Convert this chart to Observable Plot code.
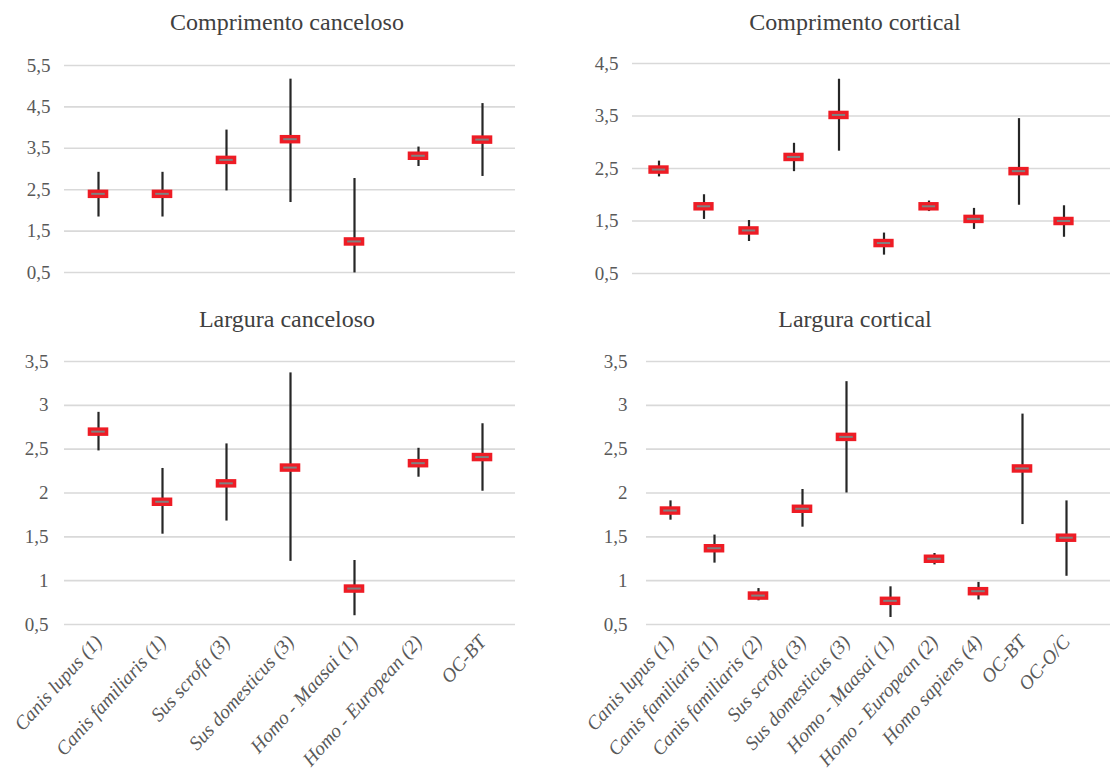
<!DOCTYPE html>
<html>
<head>
<meta charset="utf-8">
<script src="https://cdn.jsdelivr.net/npm/d3@7"></script>
<script src="https://cdn.jsdelivr.net/npm/@observablehq/plot@0.6"></script>
<style>
  html, body { margin: 0; padding: 0; background: #fff; }
  #root { position: relative; width: 1112px; height: 773px; overflow: hidden; font-family: "Liberation Serif", "Times New Roman", Tinos, "DejaVu Serif", serif; }
  .panel { position: absolute; }
  .panel svg, .panel svg text { font-family: "Liberation Serif", "Times New Roman", Tinos, "DejaVu Serif", serif !important; }
  .title { position: absolute; width: 500px; text-align: center; font-size: 24px; line-height: 28px; color: #404040; font-family: "Liberation Serif", "Times New Roman", Tinos, "DejaVu Serif", serif; }
  .xlab g[aria-label="x-axis tick label"] text { font-style: italic; }
</style>
</head>
<body>
<div id="root"></div>
<script>
// ---- Data ----
const catsLeft = ["Canis lupus (1)", "Canis familiaris (1)", "Sus scrofa (3)", "Sus domesticus (3)", "Homo - Maasai (1)", "Homo - European (2)", "OC-BT"];
const catsRight = ["Canis lupus (1)", "Canis familiaris (1)", "Canis familiaris (2)", "Sus scrofa (3)", "Sus domesticus (3)", "Homo - Maasai (1)", "Homo - European (2)", "Homo sapiens (4)", "OC-BT", "OC-O/C"];

// Comprimento canceloso
const compCancMin  = [1.84, 1.84, 2.47, 2.19, 0.49, 3.06, 2.82];
const compCancMax  = [2.92, 2.92, 3.94, 5.17, 2.77, 3.53, 4.58];
const compCancMean = [2.40, 2.40, 3.22, 3.72, 1.25, 3.32, 3.71];

// Comprimento cortical
const compCortMin  = [2.34, 1.53, 1.11, 2.44, 2.83, 0.85, 1.68, 1.34, 1.80, 1.19];
const compCortMax  = [2.64, 2.00, 1.51, 2.98, 4.20, 1.27, 1.88, 1.74, 3.45, 1.79];
const compCortMean = [2.48, 1.78, 1.32, 2.72, 3.52, 1.08, 1.78, 1.54, 2.45, 1.50];

// Largura canceloso
const largCancMin  = [2.48, 1.53, 1.68, 1.22, 0.60, 2.18, 2.02];
const largCancMax  = [2.92, 2.28, 2.56, 3.37, 1.23, 2.51, 2.79];
const largCancMean = [2.70, 1.90, 2.11, 2.29, 0.91, 2.34, 2.41];

// Largura cortical
const largCortMin  = [1.69, 1.20, 0.77, 1.61, 2.00, 0.58, 1.18, 0.78, 1.64, 1.05];
const largCortMax  = [1.91, 1.52, 0.91, 2.04, 3.27, 0.93, 1.31, 0.98, 2.90, 1.91];
const largCortMean = [1.80, 1.37, 0.83, 1.82, 2.64, 0.77, 1.25, 0.88, 2.28, 1.49];

const ticksTopLeft = [0.5, 1.5, 2.5, 3.5, 4.5, 5.5];
const ticksTopRight = [0.5, 1.5, 2.5, 3.5, 4.5];
const ticksBottom = [0.5, 1, 1.5, 2, 2.5, 3, 3.5];

const titles = ["Comprimento canceloso", "Comprimento cortical", "Largura canceloso", "Largura cortical"];

// ---- Drawing ----
const fmt = d => String(d).replace(".", ",");
const FONT = "'Liberation Serif', 'Times New Roman', Tinos, 'DejaVu Serif', serif";

function panel({cats, mins, maxs, means, ticks, left, top, width, height, mL, xEnd, mT, mB, tickPad, showX}) {
  const data = cats.map((c, i) => ({c, lo: mins[i], hi: maxs[i], m: means[i]}));
  const step = (xEnd - mL) / cats.length;
  const markW = 21;
  const insetRed = (step - markW) / 2;
  const insetGray = insetRed + 3.5;
  const chart = Plot.plot({
    width, height,
    marginLeft: mL, marginRight: 2, marginTop: mT, marginBottom: mB,
    style: {fontFamily: FONT, fontSize: "19px", color: "#595959", background: "transparent", overflow: "visible"},
    x: {domain: cats, padding: 0, range: [mL, xEnd]},
    y: {domain: [ticks[0], ticks[ticks.length - 1]]},
    marks: [
      Plot.ruleY(ticks, {stroke: "#d9d9d9", strokeWidth: 1.6}),
      Plot.axisY({ticks, tickSize: 0, tickPadding: tickPad, tickFormat: fmt, label: null, fontSize: 19}),
      showX
        ? Plot.axisX({tickSize: 0, tickPadding: 14, tickRotate: -48, label: null, fontSize: 19.5})
        : Plot.axisX({ticks: [], label: null}),
      Plot.ruleX(data, {x: "c", y1: "lo", y2: "hi", stroke: "#262626", strokeWidth: 2.2}),
      Plot.tickY(data, {x: "c", y: "m", stroke: "#ee1c25", strokeWidth: 8.5, insetLeft: insetRed, insetRight: insetRed}),
      Plot.tickY(data, {x: "c", y: "m", stroke: "#808080", strokeWidth: 2, insetLeft: insetGray, insetRight: insetGray})
    ]
  });
  const wrap = document.createElement("div");
  wrap.className = "panel" + (showX ? " xlab" : "");
  wrap.style.left = left + "px";
  wrap.style.top = top + "px";
  wrap.appendChild(chart);
  return wrap;
}

const root = document.getElementById("root");

root.appendChild(panel({cats: catsLeft, mins: compCancMin, maxs: compCancMax, means: compCancMean, ticks: ticksTopLeft,
  left: 0, top: 50, width: 517, height: 240, mL: 64, xEnd: 515, mT: 15, mB: 18, tickPad: 14, showX: false}));
root.appendChild(panel({cats: catsRight, mins: compCortMin, maxs: compCortMax, means: compCortMean, ticks: ticksTopRight,
  left: 560, top: 50, width: 552, height: 240, mL: 72, xEnd: 529, mT: 13, mB: 17, tickPad: 14, showX: false}));
root.appendChild(panel({cats: catsLeft, mins: largCancMin, maxs: largCancMax, means: largCancMean, ticks: ticksBottom,
  left: 0, top: 340, width: 517, height: 433, mL: 64, xEnd: 515, mT: 21, mB: 149, tickPad: 16, showX: true}));
root.appendChild(panel({cats: catsRight, mins: largCortMin, maxs: largCortMax, means: largCortMean, ticks: ticksBottom,
  left: 560, top: 340, width: 552, height: 433, mL: 86, xEnd: 530, mT: 21, mB: 149, tickPad: 19, showX: true}));

const titlePos = [[37, 8], [605, 8], [37, 305], [605, 305]];
titles.forEach((t, i) => {
  const d = document.createElement("div");
  d.className = "title";
  d.textContent = t;
  d.style.left = titlePos[i][0] + "px";
  d.style.top = titlePos[i][1] + "px";
  root.appendChild(d);
});
</script>
</body>
</html>
